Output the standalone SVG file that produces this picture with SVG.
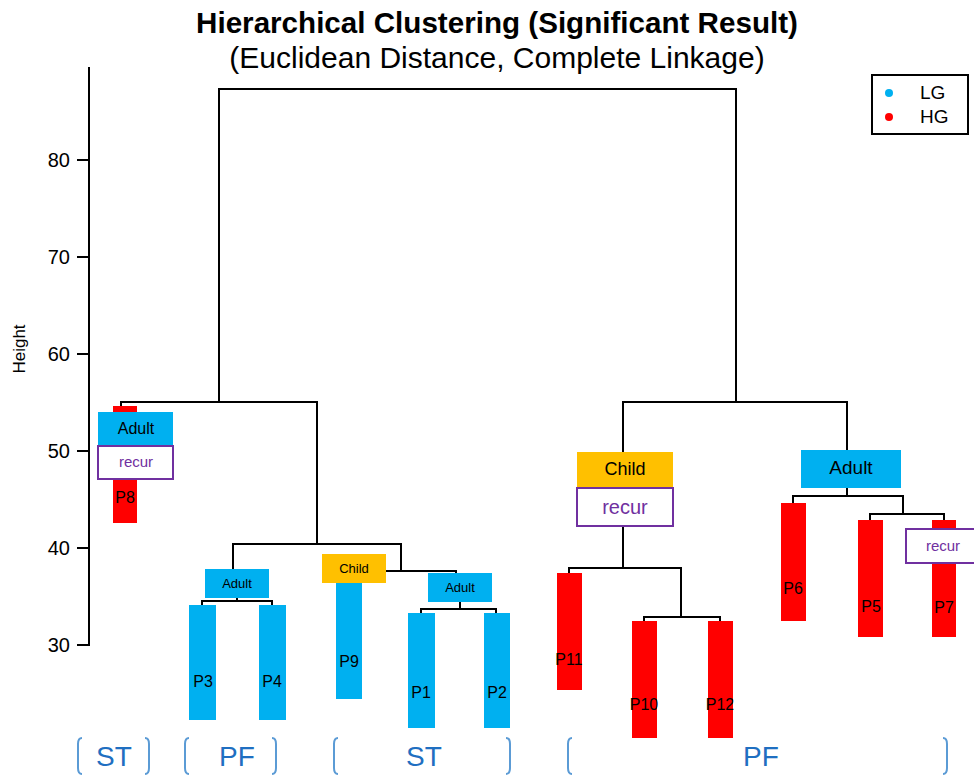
<svg xmlns="http://www.w3.org/2000/svg" width="974" height="780" viewBox="0 0 974 780">
<style>
text{font-family:"Liberation Sans",Arial,Helvetica,sans-serif;}
.title{font-size:29.6px;font-weight:bold;text-anchor:middle;fill:#000;}
.sub{font-size:30px;text-anchor:middle;fill:#000;}
.tick{font-size:20px;text-anchor:end;fill:#000;}
.ln{fill:none;stroke:#000;stroke-width:2;stroke-linecap:square;}
.lg{fill:#00B0F0;}
.hg{fill:#FF0000;}
.ch{fill:#FFC000;}
.rec{fill:#fff;stroke:#7030A0;stroke-width:2;}
.lab{text-anchor:middle;fill:#000;}
.rt{text-anchor:middle;fill:#7030A0;}
.pl{font-size:16px;text-anchor:middle;fill:#000;}
.br{fill:none;stroke:#5B9BD5;stroke-width:2;}
.bt{font-size:28px;text-anchor:middle;fill:#1F6FC1;}
</style>

<g id="title">
<text class="title" x="497" y="33">Hierarchical Clustering (Significant Result)</text>
<text class="sub" x="497" y="68">(Euclidean Distance, Complete Linkage)</text>
</g>

<g id="axis">
<path class="ln" d="M89,68 V645 M78,160 H89 M78,257 H89 M78,354 H89 M78,451 H89 M78,548 H89 M78,645 H89"/>
<text class="tick" x="70" y="167">80</text>
<text class="tick" x="70" y="264">70</text>
<text class="tick" x="70" y="361">60</text>
<text class="tick" x="70" y="458">50</text>
<text class="tick" x="70" y="555">40</text>
<text class="tick" x="70" y="652">30</text>
<text x="25" y="349" font-size="17" text-anchor="middle" transform="rotate(-90 25 349)">Height</text>
</g>

<g id="legend">
<rect x="872" y="75" width="96" height="59" fill="#fff" stroke="#000" stroke-width="2"/>
<circle cx="889" cy="93" r="4" class="lg"/>
<circle cx="889" cy="117" r="4" class="hg"/>
<text x="920" y="99" font-size="19">LG</text>
<text x="920" y="123" font-size="19">HG</text>
</g>

<g id="connectors">
<path class="ln" d="M219,402 V89 H736 V402"/>
<path class="ln" d="M121,406 V402 H317 V544"/>
<path class="ln" d="M233,569 V544 H401 V571"/>
<path class="ln" d="M349,571 H456 V573"/>
<path class="ln" d="M237,598 V601 M202,605 V601 H272 V605"/>
<path class="ln" d="M460,602 V609 M421,613 V609 H496 V613"/>
<path class="ln" d="M623,452 V402 H847 V450"/>
<path class="ln" d="M623,526 V568 M569,573 V568 H681 V617 M644,621 V617 H720 V621"/>
<path class="ln" d="M847,488 V496 M793,503 V496 H903 V514 M870,520 V514 H944 V520"/>
</g>

<g id="P8">
<rect x="113" y="406" width="24" height="117" class="hg"/>
<text class="pl" x="125" y="503">P8</text>
</g>
<g id="P8-tag">
<rect x="98" y="412" width="75" height="34" class="lg"/>
<text class="lab" x="136" y="434" font-size="16">Adult</text>
<rect x="98" y="446" width="75" height="33" class="rec"/>
<text class="rt" x="136" y="467" font-size="15">recur</text>
</g>

<g id="P3">
<rect x="189" y="605" width="27" height="115" class="lg"/>
<text class="pl" x="203" y="687">P3</text>
</g>
<g id="P4">
<rect x="259" y="605" width="27" height="115" class="lg"/>
<text class="pl" x="272" y="687">P4</text>
</g>
<g id="P3P4-tag">
<rect x="205" y="569" width="64" height="29" class="lg"/>
<text class="lab" x="237" y="588" font-size="13">Adult</text>
</g>

<g id="P9">
<rect x="336" y="583" width="26" height="116" class="lg"/>
<text class="pl" x="349" y="667">P9</text>
</g>
<g id="P9-tag">
<rect x="322" y="554" width="64" height="29" class="ch"/>
<text class="lab" x="354" y="573" font-size="13">Child</text>
</g>

<g id="P1">
<rect x="408" y="613" width="27" height="115" class="lg"/>
<text class="pl" x="421" y="698">P1</text>
</g>
<g id="P2">
<rect x="484" y="613" width="26" height="115" class="lg"/>
<text class="pl" x="497" y="698">P2</text>
</g>
<g id="P1P2-tag">
<rect x="428" y="573" width="64" height="29" class="lg"/>
<text class="lab" x="460" y="592" font-size="13">Adult</text>
</g>

<g id="P11">
<rect x="557" y="573" width="25" height="117" class="hg"/>
<text class="pl" x="569" y="665">P11</text>
</g>
<g id="P10">
<rect x="632" y="621" width="25" height="117" class="hg"/>
<text class="pl" x="644" y="710">P10</text>
</g>
<g id="P12">
<rect x="708" y="621" width="25" height="117" class="hg"/>
<text class="pl" x="720" y="710">P12</text>
</g>
<g id="child-tag">
<rect x="577" y="452" width="96" height="36" class="ch"/>
<text class="lab" x="625" y="475" font-size="18">Child</text>
<rect x="577" y="488" width="96" height="38" class="rec"/>
<text class="rt" x="625" y="514" font-size="20">recur</text>
</g>

<g id="P6">
<rect x="781" y="503" width="25" height="118" class="hg"/>
<text class="pl" x="793" y="594">P6</text>
</g>
<g id="P5">
<rect x="858" y="520" width="25" height="117" class="hg"/>
<text class="pl" x="871" y="612">P5</text>
</g>
<g id="P7">
<rect x="932" y="520" width="24" height="117" class="hg"/>
<text class="pl" x="944" y="613">P7</text>
</g>
<g id="adult-tag">
<rect x="801" y="450" width="100" height="38" class="lg"/>
<text class="lab" x="851" y="474" font-size="19">Adult</text>
</g>
<g id="P7-tag">
<rect x="906" y="529" width="74" height="34" class="rec"/>
<text class="rt" x="943" y="551" font-size="15">recur</text>
</g>

<g id="groups">
<path class="br" d="M82,738 Q78,738 78,744 V768 Q78,774 82,774 M145,738 Q149,738 149,744 V768 Q149,774 145,774"/>
<text class="bt" x="114" y="766">ST</text>
<path class="br" d="M189,738 Q185,738 185,744 V768 Q185,774 189,774 M272,738 Q276,738 276,744 V768 Q276,774 272,774"/>
<text class="bt" x="237" y="766">PF</text>
<path class="br" d="M338,738 Q334,738 334,744 V768 Q334,774 338,774 M506,738 Q510,738 510,744 V768 Q510,774 506,774"/>
<text class="bt" x="424" y="766">ST</text>
<path class="br" d="M572,738 Q568,738 568,744 V768 Q568,774 572,774 M943,738 Q947,738 947,744 V768 Q947,774 943,774"/>
<text class="bt" x="761" y="766">PF</text>
</g>
</svg>
